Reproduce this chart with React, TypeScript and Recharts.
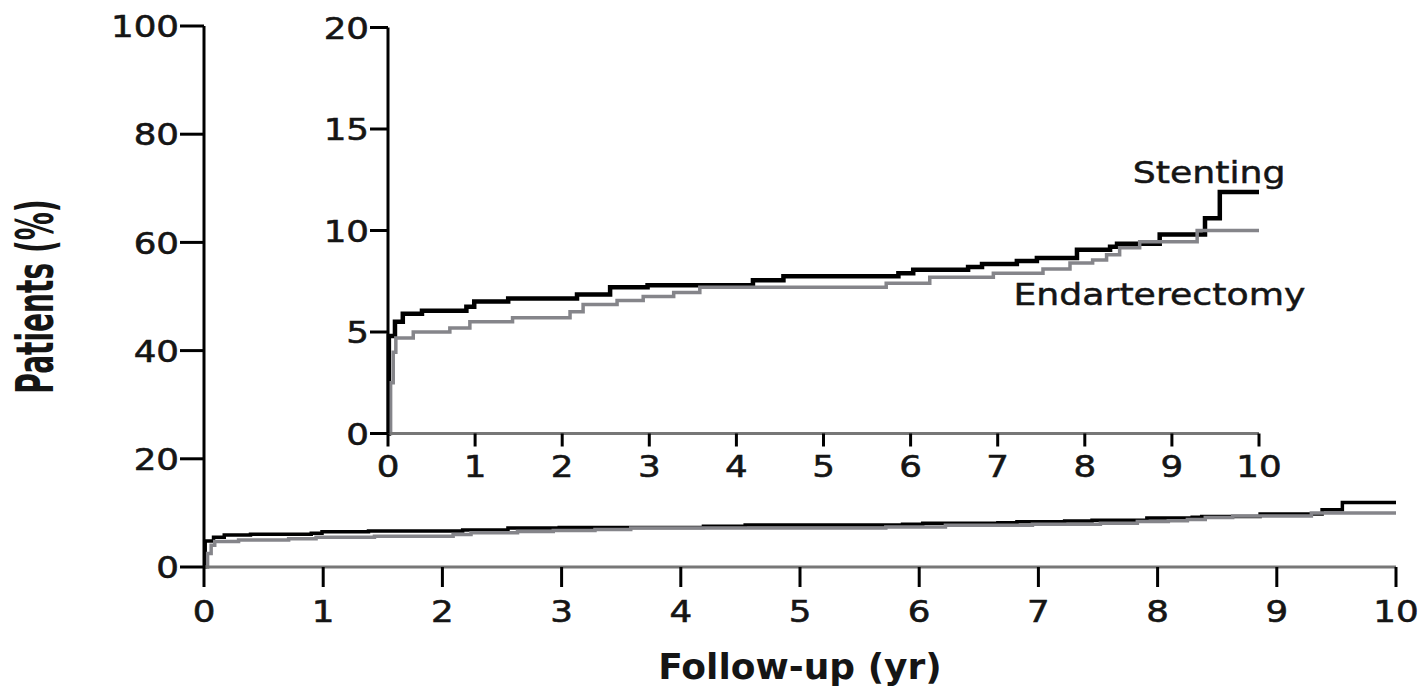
import React from "react";
import { LineChart, Line, XAxis, YAxis, ReferenceDot, Label } from "recharts";

// Follow-up years (x) and cumulative event rate (%) for each arm
const stentingYears = [0, 0.01, 0.08, 0.17, 0.39, 0.9, 0.99, 1.38, 2.17, 2.55, 2.98, 4.19, 4.54, 5.86, 6.03, 6.66, 6.82, 7.22, 7.45, 7.91, 8.29, 8.37, 8.86, 9.38, 9.55, 10];
const stentingPct = [0, 4.8, 5.5, 5.9, 6.05, 6.25, 6.5, 6.65, 6.85, 7.2, 7.3, 7.55, 7.75, 7.9, 8.07, 8.2, 8.35, 8.5, 8.65, 9.05, 9.2, 9.35, 9.8, 10.6, 11.9, 11.9];

const endartYears = [0, 0.03, 0.06, 0.09, 0.29, 0.71, 0.94, 1.43, 2.09, 2.24, 2.63, 2.93, 3.28, 3.58, 5.72, 6.22, 6.95, 7.52, 7.83, 8.09, 8.25, 8.4, 8.63, 9.29, 10];
const endartPct = [0, 2.5, 4.0, 4.7, 5.0, 5.2, 5.5, 5.7, 6.0, 6.35, 6.55, 6.75, 6.95, 7.2, 7.4, 7.7, 7.9, 8.1, 8.4, 8.55, 8.8, 9.15, 9.45, 10.0, 10.0];

const xTicks = [0, 1, 2, 3, 4, 5, 6, 7, 8, 9, 10];
const mainYTicks = [0, 20, 40, 60, 80, 100];
const insetYTicks = [0, 5, 10, 15, 20];

const seriesNames = ["Stenting", "Endarterectomy"];
const xTitle = "Follow-up (yr)";
const yTitle = "Patients (%)";

const stentingData = stentingYears.map((x, i) => ({ x, y: stentingPct[i] }));
const endartData = endartYears.map((x, i) => ({ x, y: endartPct[i] }));

const FONT = "'DejaVu Sans', sans-serif";
const TEXT = "#151515";
const GRAY = "#85858a";

const YTick = (props: any) => {
  const { x, y, payload } = props;
  return (
    <text
      transform={`translate(${x},${y}) scale(1.15,1)`}
      textAnchor="end"
      dy="0.36em"
      fontSize={31}
      fontFamily={FONT}
      fill={TEXT}
      stroke={TEXT}
      strokeWidth={0.6}
    >
      {payload.value}
    </text>
  );
};

const XTick = (props: any) => {
  const { x, y, payload } = props;
  return (
    <text
      transform={`translate(${x},${y}) scale(1.15,1)`}
      textAnchor="middle"
      dy="0.73em"
      fontSize={31}
      fontFamily={FONT}
      fill={TEXT}
      stroke={TEXT}
      strokeWidth={0.6}
    >
      {payload.value}
    </text>
  );
};

const seriesLabel = (text: string) => (props: any) => (
  <text
    transform={`translate(${props.cx},${props.cy}) scale(1.17,1)`}
    textAnchor="start"
    fontSize={31}
    fontFamily={FONT}
    fill={TEXT}
    stroke={TEXT}
    strokeWidth={0.5}
  >
    {text}
  </text>
);

const axisBlack = { stroke: "#000", strokeWidth: 3 };
const axisGray = { stroke: "#777", strokeWidth: 3 };
const tickBlack = { stroke: "#000", strokeWidth: 3 };

export default function App() {
  return (
    <div style={{ position: "absolute", left: 0, top: 0, width: 1421, height: 689, background: "#fff" }}>
      {/* Main chart */}
      <div style={{ position: "absolute", left: 0, top: 0 }}>
        <LineChart width={1421} height={689} margin={{ top: 26, right: 25, bottom: 42, left: 104 }}>
          <XAxis
            dataKey="x"
            type="number"
            domain={[0, 10]}
            ticks={xTicks}
            interval={0}
            height={80}
            axisLine={axisGray}
            tickLine={tickBlack}
            tickSize={20}
            tickMargin={12}
            tick={<XTick />}
            allowDuplicatedCategory={false}
          >
            <Label
              content={(p: any) => {
                const vb = p.viewBox;
                return (
                  <text
                    x={vb.x + vb.width / 2}
                    y={679}
                    textAnchor="middle"
                    fontSize={36}
                    fontWeight="bold"
                    fontFamily={FONT}
                    fill={TEXT}
                  >
                    {xTitle}
                  </text>
                );
              }}
            />
          </XAxis>
          <YAxis
            dataKey="y"
            type="number"
            domain={[0, 100]}
            ticks={mainYTicks}
            interval={0}
            width={100}
            axisLine={axisBlack}
            tickLine={tickBlack}
            tickSize={24}
            tickMargin={1}
            tick={<YTick />}
          >
            <Label
              content={(p: any) => {
                const vb = p.viewBox;
                const cy = vb.y + vb.height / 2;
                return (
                  <text
                    transform={`translate(53,${cy}) rotate(-90) scale(0.55,1)`}
                    textAnchor="middle"
                    fontSize={51}
                    fontWeight="bold"
                    fontFamily={FONT}
                    fill={TEXT}
                  >
                    {yTitle}
                  </text>
                );
              }}
            />
          </YAxis>
          <Line
            data={stentingData}
            dataKey="y"
            type="stepAfter"
            stroke="#000"
            strokeWidth={3.5}
            dot={false}
            activeDot={false}
            isAnimationActive={false}
            name={seriesNames[0]}
          />
          <Line
            data={endartData}
            dataKey="y"
            type="stepAfter"
            stroke={GRAY}
            strokeWidth={3.5}
            dot={false}
            activeDot={false}
            isAnimationActive={false}
            name={seriesNames[1]}
          />
        </LineChart>
      </div>

      {/* Inset chart */}
      <div style={{ position: "absolute", left: 0, top: 0 }}>
        <LineChart width={1421} height={689} margin={{ top: 27.5, right: 162, bottom: 195.5, left: 328 }}>
          <XAxis
            dataKey="x"
            type="number"
            domain={[0, 10]}
            ticks={xTicks}
            interval={0}
            height={60}
            axisLine={axisGray}
            tickLine={tickBlack}
            tickSize={13}
            tickMargin={8}
            tick={<XTick />}
          />
          <YAxis
            dataKey="y"
            type="number"
            domain={[0, 20]}
            ticks={insetYTicks}
            interval={0}
            width={60}
            axisLine={axisBlack}
            tickLine={tickBlack}
            tickSize={18}
            tickMargin={1}
            tick={<YTick />}
          />
          <Line
            data={stentingData}
            dataKey="y"
            type="stepAfter"
            stroke="#000"
            strokeWidth={4.5}
            dot={false}
            activeDot={false}
            isAnimationActive={false}
            name={seriesNames[0]}
          />
          <Line
            data={endartData}
            dataKey="y"
            type="stepAfter"
            stroke={GRAY}
            strokeWidth={3.5}
            dot={false}
            activeDot={false}
            isAnimationActive={false}
            name={seriesNames[1]}
          />
          <ReferenceDot x={8.55} y={12.34} r={0} shape={seriesLabel(seriesNames[0])} ifOverflow="visible" />
          <ReferenceDot x={7.18} y={6.33} r={0} shape={seriesLabel(seriesNames[1])} ifOverflow="visible" />
        </LineChart>
      </div>
    </div>
  );
}
